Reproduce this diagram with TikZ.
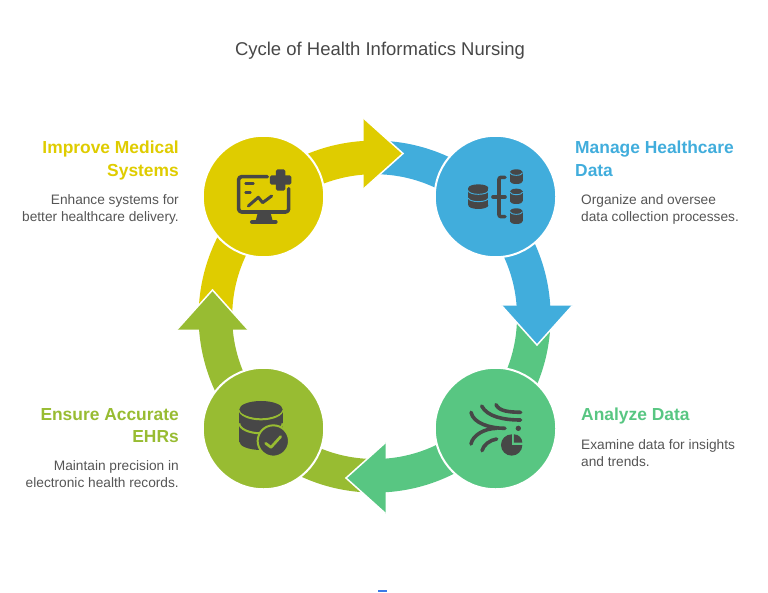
\documentclass[tikz,border=0pt]{standalone}
\usepackage{fontspec}
\setmainfont{Liberation Sans}
\usepackage{tikz}
\usetikzlibrary{positioning,calc}
\definecolor{CycYellow}{RGB}{223,204,0}
\definecolor{CycBlue}{RGB}{65,173,220}
\definecolor{CycGreen}{RGB}{88,198,130}
\definecolor{CycOlive}{RGB}{152,188,50}
\definecolor{IconGray}{RGB}{71,71,71}
\definecolor{TextGray}{RGB}{85,85,85}
\definecolor{MarkBlue}{RGB}{59,123,232}

\begin{document}
\begin{tikzpicture}[
  x=1pt,y=-1pt,
  ringarc/.style={line width=33.6pt},
  headtri/.style={draw=white,line width=1.5pt,line join=miter},
  stepcirc/.style={circle,draw=white,line width=2pt,minimum size=121.5pt,inner sep=0pt,outer sep=0pt},
  steplabel/.style={font=\fontsize{17.4}{22.5}\selectfont\bfseries,inner sep=0pt},
  stepdesc/.style={font=\fontsize{13.7}{17}\selectfont,text=TextGray,inner sep=0pt},
  iconline/.style={draw=IconGray,line width=3.6pt,line cap=round,line join=round},
  zoomed/.style={shift={#1},x=0.3333pt,y=-0.3333pt},
]
\useasboundingbox (0,0) rectangle (768,592);
\node[font=\fontsize{18.5}{22}\selectfont,text=IconGray,inner sep=0pt] (cycletitle) at (380,51) {Cycle of Health Informatics Nursing};

% ring pieces, each one ends under an arrow head
\coordinate (ringc) at (374.6,316.6);
\foreach \col/\a/\b in {CycYellow/180/270, CycBlue/270/360, CycGreen/0/90, CycOlive/90/180}
  \draw[ringarc,draw=\col] ($(ringc)+(\a:159.2)$) arc[start angle=\a,end angle=\b,radius=159.2];

% no closing line, so the base of a head stays joined to its ring piece
\foreach \col/\x/\y/\r in {CycYellow/403/153.5/0, CycBlue/537/345/-90, CycGreen/346/478/180, CycOlive/212.5/290/90}
  \draw[headtri,fill=\col,shift={(\x,\y)},rotate=\r] (-39.5,35.5) -- (0,0) -- (-39.5,-35.5);

\node[stepcirc,fill=CycYellow] (improvecirc) at (263.5,196.5) {};
\node[stepcirc,fill=CycBlue] (managecirc) at (495.5,196.5) {};
\node[stepcirc,fill=CycGreen] (analyzecirc) at (495.5,428.5) {};
\node[stepcirc,fill=CycOlive] (ensurecirc) at (263.5,428.5) {};

% monitor icon
\begin{scope}[zoomed={(190,110)}]
  \draw[iconline,rounded corners=3pt] (232,200) -- (146,200) -- (146,306) -- (296,306) -- (296,236);
  \fill[IconGray,rounded corners=1.5pt] (258,178) rectangle (286,242);
  \fill[IconGray,rounded corners=1.5pt] (240,196) rectangle (304,224);
  \draw[iconline,line width=2.8pt] (167,220) -- (190,220) (167,247) -- (181,247);
  \draw[iconline,line width=3pt] (175,288) -- (205,262) -- (218,278) -- (245,258);
  \fill[IconGray] (203,310) -- (242,310) -- (248,332) -- (197,332) -- cycle;
  \draw[iconline,line width=4pt] (186,336) -- (257,336);
\end{scope}

% databases icon
\begin{scope}[zoomed={(400,120)}]
  \fill[IconGray] (205,204) rectangle (265,256);
  \fill[IconGray] (235,204) ellipse [x radius=30,y radius=11];
  \fill[IconGray] (235,256) ellipse [x radius=30,y radius=11];
  \draw[CycBlue,line width=0.9pt] (205,212) arc[start angle=180,end angle=0,x radius=30,y radius=11];
  \draw[CycBlue,line width=0.9pt] (205,234) arc[start angle=180,end angle=0,x radius=30,y radius=11];
  \foreach \t/\b in {148/192, 206/252, 265/312} {
    \fill[IconGray] (330,\t+8) rectangle (368,\b-8);
    \fill[IconGray] (349,\t+8) ellipse [x radius=19,y radius=8];
    \fill[IconGray] (349,\b-8) ellipse [x radius=19,y radius=8];
    \draw[CycBlue,line width=0.9pt] (330,\t+10) arc[start angle=180,end angle=0,x radius=19,y radius=8];
  }
  \draw[iconline,rounded corners=2pt] (315,172) -- (297,172) -- (297,290) -- (315,290);
  \draw[iconline] (279,231) -- (315,231);
\end{scope}

% flow icon
\begin{scope}[zoomed={(400,320)}]
  \draw[iconline] (288,254) .. controls (298,275) and (330,276) .. (362,277);
  \draw[iconline] (245,258) .. controls (262,290) and (310,300) .. (362,300);
  \draw[iconline] (213,277) .. controls (220,310) and (270,325) .. (315,325);
  \draw[iconline] (213,372) .. controls (218,345) and (255,325) .. (290,325);
  \draw[iconline] (246,392) .. controls (250,375) and (270,360) .. (290,357);
  \fill[IconGray] (355,325) circle (8);
  \fill[IconGray] (335,375) circle (32);
  \fill[CycGreen] (335,375) -- (335,335) -- (375,335) -- (375,375) -- cycle;
  \fill[IconGray] (342,368) -- (342,343) arc[start angle=-90,end angle=0,radius=25] -- cycle;
\end{scope}

% database check icon
\begin{scope}[zoomed={(170,290)}]
  \fill[IconGray] (208,358) rectangle (338,455);
  \fill[IconGray] (273,455) ellipse [x radius=65,y radius=25];
  \draw[CycOlive,line width=2pt] (208,358) arc[start angle=180,end angle=0,x radius=65,y radius=30];
  \draw[CycOlive,line width=2pt] (208,400) arc[start angle=180,end angle=0,x radius=65,y radius=30];
  \fill[IconGray] (273,358) ellipse [x radius=65,y radius=25];
  \fill[IconGray,draw=CycOlive,line width=2pt] (310,453) circle (47);
  \draw[draw=CycOlive,line width=2.7pt,line cap=round,line join=round] (287,460) -- (303,472) -- (332,440);
\end{scope}

% texts
\node[steplabel,text=CycYellow,align=right,anchor=north east] (improvelabel) at (179,141) {Improve Medical\\Systems};
\node[stepdesc,align=right,anchor=north east] (improvedesc) at (179,194) {Enhance systems for\\better healthcare delivery.};
\node[steplabel,text=CycBlue,align=left,anchor=north west] (managelabel) at (575,141) {Manage Healthcare\\Data};
\node[stepdesc,align=left,anchor=north west] (managedesc) at (581,194) {Organize and oversee\\data collection processes.};
\node[steplabel,text=CycGreen,align=left,anchor=north west] (analyzelabel) at (581,408) {Analyze Data};
\node[stepdesc,align=left,anchor=north west] (analyzedesc) at (581,439) {Examine data for insights\\and trends.};
\node[steplabel,text=CycOlive,align=right,anchor=north east] (ensurelabel) at (179,408) {Ensure Accurate\\EHRs};
\node[stepdesc,align=right,anchor=north east] (ensuredesc) at (179,460) {Maintain precision in\\electronic health records.};

\fill[MarkBlue] (378,590) rectangle (387,592);
\end{tikzpicture}
\end{document}
